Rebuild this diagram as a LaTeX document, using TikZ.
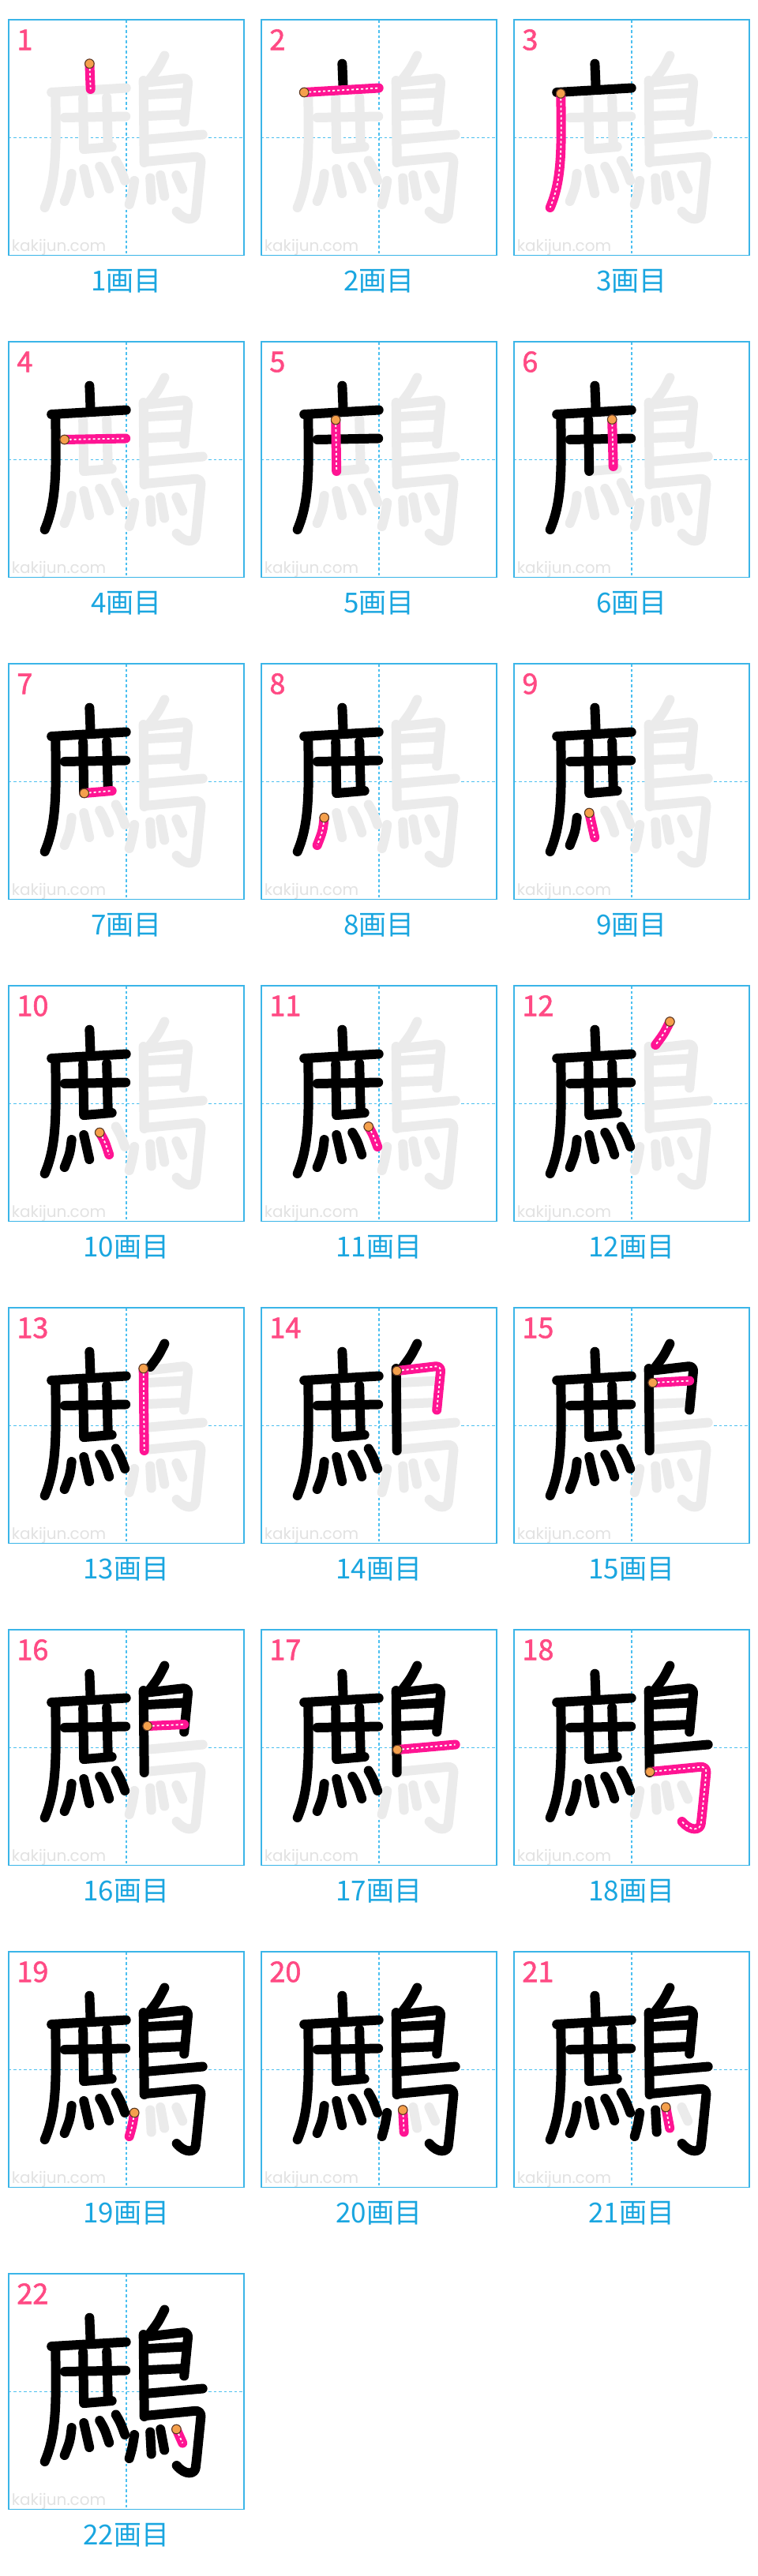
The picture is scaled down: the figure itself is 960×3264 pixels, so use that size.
\documentclass[tikz,border=0pt]{standalone}
\usepackage{fontspec}
\newfontfamily\jpfont{Noto Sans CJK JP}
\newfontfamily\numfont[FakeBold=1.5]{Noto Sans CJK JP}
\newfontfamily\wmfont{Poppins}
\definecolor{boxblue}{HTML}{3BB5E8}
\definecolor{guideblue}{HTML}{4CC0F0}
\definecolor{labelblue}{HTML}{1AA6E0}
\definecolor{numpink}{HTML}{FF4A84}
\definecolor{curpink}{HTML}{FF1493}
\definecolor{ghost}{HTML}{EBEBEB}
\definecolor{wmgray}{HTML}{E2E2E2}
\definecolor{dotorange}{HTML}{F5A04C}
\definecolor{dotedge}{HTML}{5A3A22}
\tikzset{
  x=1pt, y=-1pt,
  stk/.style={line width=12pt, line cap=round, line join=round},
  blk/.style={stk, draw=black},
  gry/.style={stk, draw=ghost},
  cur/.style={stk, draw=curpink},
  curdash/.style={line width=1.8pt, draw=white, dash pattern=on 3pt off 3pt},
  boxline/.style={draw=boxblue, line width=1.6pt},
  guide/.style={draw=guideblue, line width=1.4pt, dash pattern=on 3.5pt off 3pt},
  numtext/.style={text=numpink, font=\numfont\fontsize{36}{36}\selectfont, inner sep=0pt, anchor=base west},
  labtext/.style={text=labelblue, font=\jpfont\fontsize{35}{38}\selectfont, inner sep=0pt},
  wmtext/.style={text=wmgray, font=\wmfont\fontsize{20}{20}\selectfont, inner sep=0pt, anchor=base west},
}
\newcommand\drawstroke[2]{\ifcase#2\relax\or
  \coordinate (st) at (102.7,55.7); \draw[#1] (st) -- (104,88);
\or
  \coordinate (st) at (54.5,92); \draw[#1] (st) -- (149,86.5);
\or
  \coordinate (st) at (59.5,93.5); \draw[#1] (st) .. controls (61,170) and (60,205) .. (46,238);
\or
  \coordinate (st) at (71,124); \draw[#1] (st) -- (148.5,122.5);
\or
  \coordinate (st) at (94.5,99); \draw[#1] (st) -- (95.5,164);
\or
  \coordinate (st) at (124.5,98.5); \draw[#1] (st) -- (126,158);
\or
  \coordinate (st) at (96,164); \draw[#1] (st) -- (131,161);
\or
  \coordinate (st) at (80,195); \draw[#1] (st) .. controls (78,212) .. (71,230);
\or
  \coordinate (st) at (95.5,189); \draw[#1] (st) -- (102.5,220);
\or
  \coordinate (st) at (115.5,186); \draw[#1] (st) .. controls (122,197) .. (127.5,214);
\or
  \coordinate (st) at (136,178.5); \draw[#1] (st) .. controls (142,189) .. (147.5,204);
\or
  \coordinate (st) at (197.7,45.5); \draw[#1] (st) .. controls (190,61) .. (179.5,75);
\or
  \coordinate (st) at (171,77); \draw[#1] (st) -- (172,181);
\or
  \coordinate (st) at (172,80); \draw[#1, rounded corners=7pt] (st) -- (228,73.5) -- (222.5,129.5);
\or
  \coordinate (st) at (176,95); \draw[#1] (st) -- (222.5,92.5);
\or
  \coordinate (st) at (176,122); \draw[#1] (st) -- (222.5,120);
\or
  \coordinate (st) at (172.5,152); \draw[#1] (st) -- (246,145.5);
\or
  \coordinate (st) at (172.5,180); \draw[#1, rounded corners=8pt] (st) -- (244.5,173) -- (238,238) .. controls (236,254) and (224,256) .. (213,243);
\or
  \coordinate (st) at (159.5,204); \draw[#1] (st) .. controls (157,220) .. (153,234);
\or
  \coordinate (st) at (179.5,200.5); \draw[#1] (st) -- (181,228.5);
\or
  \coordinate (st) at (192.5,197); \draw[#1] (st) .. controls (195.5,210) .. (197.5,223.5);
\or
  \coordinate (st) at (212.7,197); \draw[#1] (st) -- (220.5,214.5);
\fi}
\begin{document}
\begin{tikzpicture}
\useasboundingbox (0,0) rectangle (960,3264);
\fill[white] (0,0) rectangle (960,3264);
\foreach \k in {1,...,22}{
  \pgfmathtruncatemacro\col{mod(\k-1,3)}
  \pgfmathtruncatemacro\row{(\k-1)/3}
  \begin{scope}[shift={(10.7+320*\col,25+408*\row)}]
    \draw[guide] (149.25,0) -- (149.25,298.5);
    \draw[guide] (0,149.25) -- (298.5,149.25);
    \node[wmtext] (wm\k) at (4,293) {kakijun.com};
    \foreach \i in {1,...,22}{\ifnum\i>\k\relax \drawstroke{gry}{\i}\fi}
    \foreach \i in {1,...,22}{\ifnum\i<\k\relax \drawstroke{blk}{\i}\fi}
    \drawstroke{cur}{\k}
    \drawstroke{curdash}{\k}
    \filldraw[fill=dotorange, draw=dotedge, line width=1.1pt] (st) circle (5.8);
    \draw[boxline] (0,0) rectangle (298.5,298.5);
    \node[numtext] (num\k) at (10.5,38.3) {\k};
    \node[labtext] (lab\k) at (149.25,331.5) {\k 画目};
  \end{scope}
}
\end{tikzpicture}
\end{document}
